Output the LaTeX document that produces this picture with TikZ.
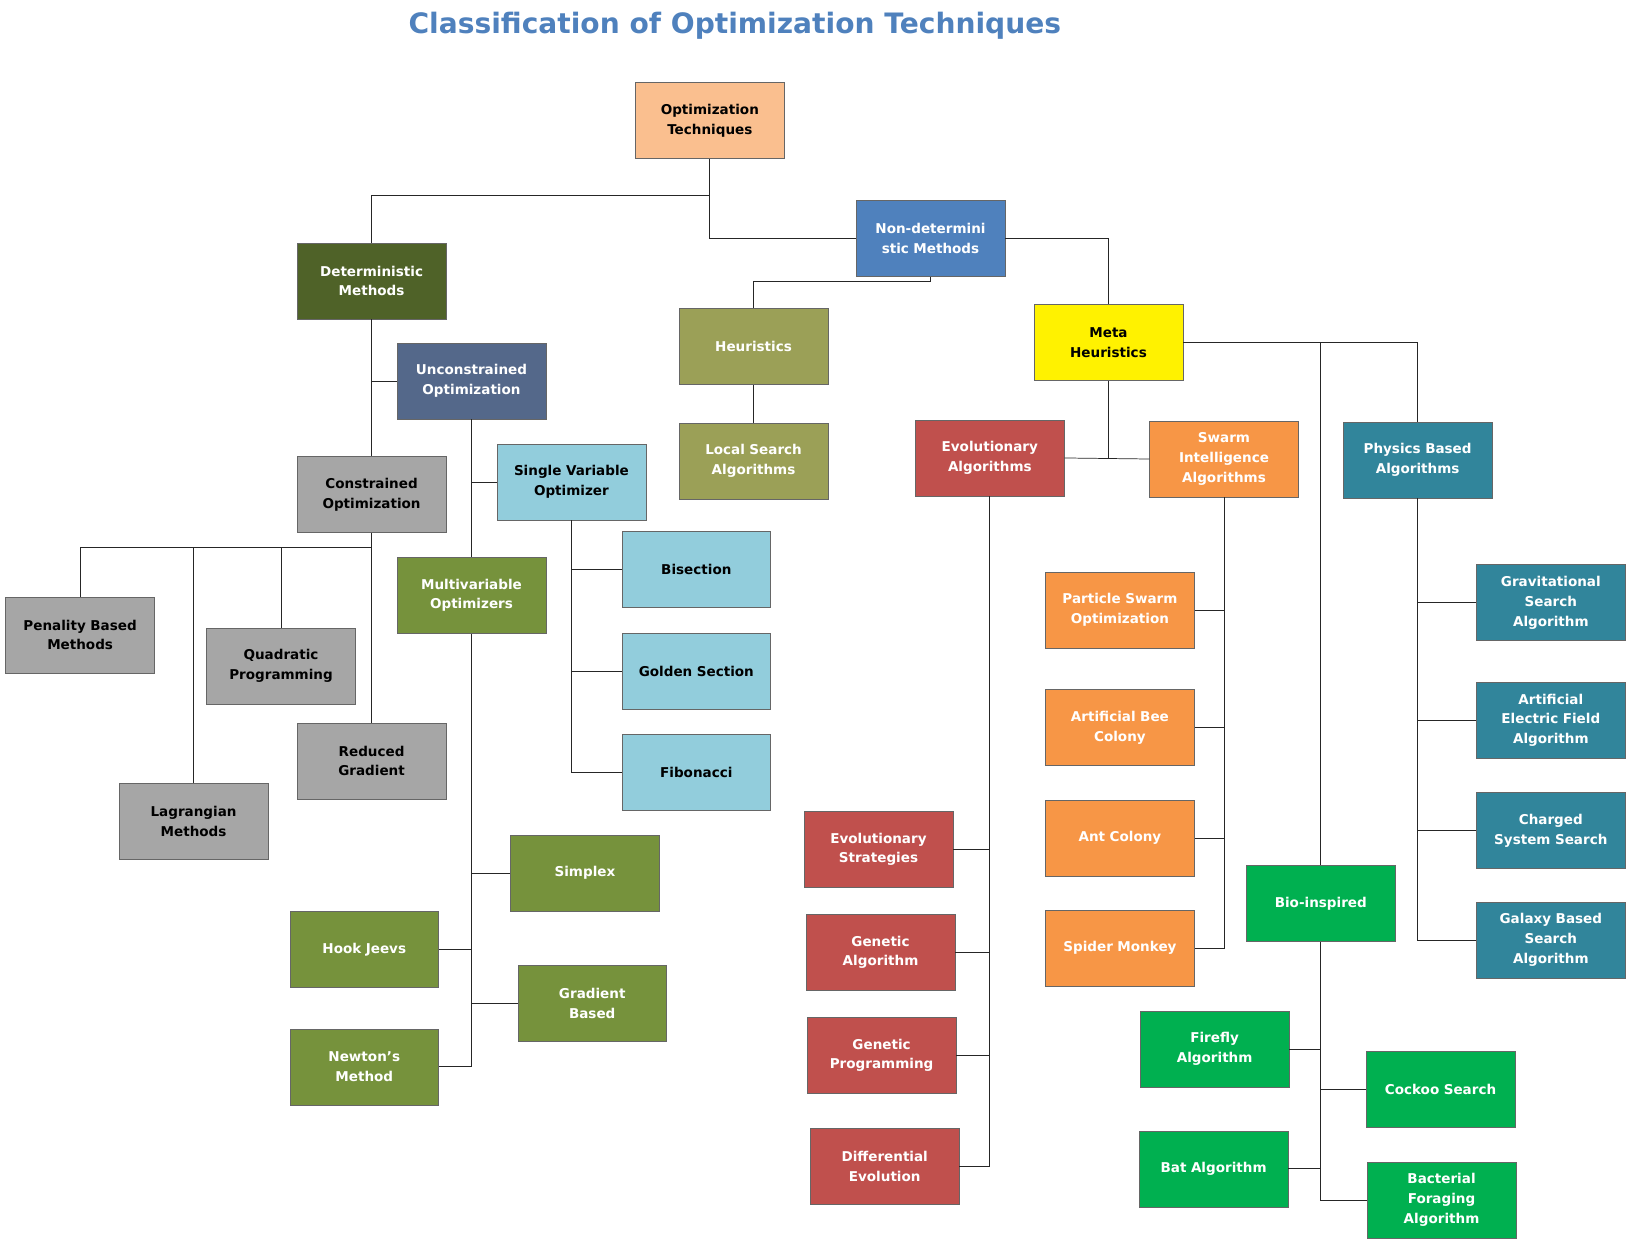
\documentclass[tikz,border=0pt]{standalone}
\usepackage{fontspec}
\setmainfont{DejaVu Sans}
\begin{document}
\begin{tikzpicture}[x=1pt,y=-1pt,
  bx/.style={draw=gray!80!black,line width=0.6pt,minimum width=143pt,minimum height=73pt,inner sep=1pt,align=center,text width=141pt,font=\fontsize{13}{19}\selectfont\bfseries,text=white},
  dk/.style={text=black},
  ln/.style={draw=black!85,line width=0.7pt}]
\useasboundingbox (0,0) rectangle (1568,1195);
\definecolor{cpeach}{RGB}{250,191,143}\definecolor{cblue}{RGB}{79,129,189}
\definecolor{cdol}{RGB}{79,98,40}\definecolor{cheur}{RGB}{155,160,87}
\definecolor{cslate}{RGB}{84,104,138}\definecolor{cgray}{RGB}{166,166,166}
\definecolor{clb}{RGB}{146,205,220}\definecolor{col}{RGB}{118,146,60}
\definecolor{cred}{RGB}{192,80,77}\definecolor{cor}{RGB}{247,150,70}
\definecolor{cteal}{RGB}{49,133,155}\definecolor{cgr}{RGB}{0,176,80}
\node[font=\fontsize{27}{32}\selectfont\bfseries,text=cblue] (title) at (706,25) {Classification of Optimization Techniques};
\node[bx,dk,fill=cpeach] (opt) at (682,116) {Optimization\\Techniques};
\node[bx,fill=cdol] (det) at (357,270) {Deterministic\\Methods};
\node[bx,fill=cblue] (nd) at (894,229) {Non-determini\\stic Methods};
\node[bx,fill=cheur] (heu) at (724,333) {Heuristics};
\node[bx,dk,fill=yellow] (meta) at (1065,329) {Meta\\Heuristics};
\node[bx,fill=cslate] (unc) at (453,366) {Unconstrained\\Optimization};
\node[bx,dk,fill=cgray] (con) at (357,475) {Constrained\\Optimization};
\node[bx,dk,fill=clb] (sv) at (549,463) {Single Variable\\Optimizer};
\node[bx,fill=cheur] (ls) at (724,443) {Local Search\\Algorithms};
\node[bx,fill=cred] (evo) at (951,440) {Evolutionary\\Algorithms};
\node[bx,fill=cor] (sw) at (1176,441) {Swarm\\Intelligence\\Algorithms};
\node[bx,fill=cteal] (ph) at (1362,442) {Physics Based\\Algorithms};
\node[bx,dk,fill=cgray] (pen) at (77,610) {Penality Based\\Methods};
\node[bx,dk,fill=cgray] (qp) at (270,640) {Quadratic\\Programming};
\node[bx,dk,fill=cgray] (rg) at (357,731) {Reduced\\Gradient};
\node[bx,dk,fill=cgray] (lag) at (186,789) {Lagrangian\\Methods};
\node[bx,fill=col] (mv) at (453,572) {Multivariable\\Optimizers};
\node[bx,dk,fill=clb] (bis) at (669,547) {Bisection};
\node[bx,dk,fill=clb] (gs) at (669,645) {Golden Section};
\node[bx,dk,fill=clb] (fib) at (669,742) {Fibonacci};
\node[bx,fill=col] (sim) at (562,839) {Simplex};
\node[bx,fill=col] (hj) at (350,912) {Hook Jeevs};
\node[bx,fill=col] (gb) at (569,964) {Gradient\\Based};
\node[bx,fill=col] (nm) at (350,1025) {Newton's\\Method};
\node[bx,fill=cor] (pso) at (1076,586) {Particle Swarm\\Optimization};
\node[bx,fill=cor] (abc) at (1076,699) {Artificial Bee\\Colony};
\node[bx,fill=cor] (ant) at (1076,805) {Ant Colony};
\node[bx,fill=cor] (sm) at (1076,911) {Spider Monkey};
\node[bx,fill=cred] (es) at (844,816) {Evolutionary\\Strategies};
\node[bx,fill=cred] (ga) at (846,915) {Genetic\\Algorithm};
\node[bx,fill=cred] (gp) at (847,1014) {Genetic\\Programming};
\node[bx,fill=cred] (de) at (850,1121) {Differential\\Evolution};
\node[bx,fill=cgr] (bio) at (1269,868) {Bio-inspired};
\node[bx,fill=cgr] (ff) at (1167,1008) {Firefly\\Algorithm};
\node[bx,fill=cgr] (cs) at (1384,1047) {Cockoo Search};
\node[bx,fill=cgr] (bat) at (1166,1123) {Bat Algorithm};
\node[bx,fill=cgr] (bf) at (1385,1153) {Bacterial\\Foraging\\Algorithm};
\node[bx,fill=cteal] (gsa) at (1490,579) {Gravitational\\Search\\Algorithm};
\node[bx,fill=cteal] (aef) at (1490,692) {Artificial\\Electric Field\\Algorithm};
\node[bx,fill=cteal] (css) at (1490,798) {Charged\\System Search};
\node[bx,fill=cteal] (gal) at (1490,903) {Galaxy Based\\Search\\Algorithm};
% connectors
\draw[ln] (opt.south) |- (357,188) -- (det.north);
\draw[ln] (opt.south) |- (nd.west);
\draw[ln] (nd.south) |- (724,270) -- (heu.north);
\draw[ln] (nd.east) -| (meta.north);
\draw[ln] (heu) -- (ls);
\draw[ln] (det) -- (con);
\draw[ln] (357,366) -- (unc.west);
\draw[ln] (con.south) -- (357,526) -- (rg.north);
\draw[ln] (77,526) -- (357,526);
\draw[ln] (77,526) -- (pen.north);
\draw[ln] (186,526) -- (lag.north);
\draw[ln] (270,526) -- (qp.north);
\draw[ln] (unc) -- (mv);
\draw[ln] (453,463) -- (sv.west);
\draw[ln] (sv.south) |- (fib.west);
\draw[ln] (549,547) -- (bis.west);
\draw[ln] (549,645) -- (gs.west);
\draw[ln] (mv.south) |- (nm.east);
\draw[ln] (453,839) -- (sim.west);
\draw[ln] (453,912) -- (hj.east);
\draw[ln] (453,964) -- (gb.west);
\draw[ln] (meta.south) -- (1065,441);
\draw[ln] (evo.east) -- (sw.west);
\draw[ln] (meta.east) -| (ph.north);
\draw[ln] (1269,329) -- (bio.north);
\draw[ln] (evo.south) |- (de.east);
\draw[ln] (951,816) -- (es.east);
\draw[ln] (951,915) -- (ga.east);
\draw[ln] (951,1014) -- (gp.east);
\draw[ln] (sw.south) |- (sm.east);
\draw[ln] (1176,586) -- (pso.east);
\draw[ln] (1176,699) -- (abc.east);
\draw[ln] (1176,805) -- (ant.east);
\draw[ln] (ph.south) |- (gal.west);
\draw[ln] (1362,579) -- (gsa.west);
\draw[ln] (1362,692) -- (aef.west);
\draw[ln] (1362,798) -- (css.west);
\draw[ln] (bio.south) |- (bf.west);
\draw[ln] (1269,1008) -- (ff.east);
\draw[ln] (1269,1047) -- (cs.west);
\draw[ln] (1269,1123) -- (bat.east);
\end{tikzpicture}
\end{document}
